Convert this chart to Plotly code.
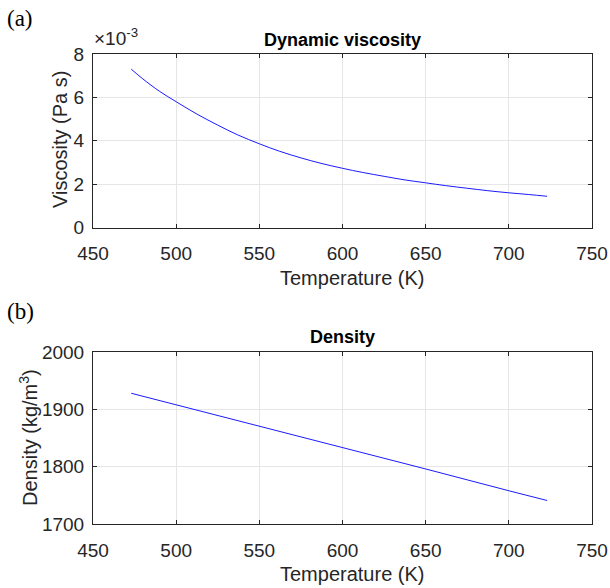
import plotly.graph_objects as go

# Data
temp_visc = [473, 480, 490, 500, 512, 525, 537, 550, 562, 575, 587, 600, 612, 625, 637, 650, 662, 675, 687, 700, 712, 723]
viscosity = [7.30e-3, 6.85e-3, 6.28e-3, 5.80e-3, 5.25e-3, 4.72e-3, 4.27e-3, 3.86e-3, 3.52e-3, 3.21e-3, 2.96e-3, 2.73e-3,
             2.54e-3, 2.36e-3, 2.20e-3, 2.06e-3, 1.93e-3, 1.81e-3, 1.70e-3, 1.60e-3, 1.52e-3, 1.44e-3]
temp_dens = [473, 500, 550, 600, 650, 700, 723]
density = [1928, 1908, 1871, 1833, 1796, 1758, 1741]

x_ticks = [450, 500, 550, 600, 650, 700, 750]
visc_ticks = [0, 0.002, 0.004, 0.006, 0.008]
visc_ticktext = ["0", "2", "4", "6", "8"]
dens_ticks = [1700, 1800, 1900, 2000]

W, H = 610, 588
FONT = "Liberation Sans, Arial, sans-serif"
SERIF = "Liberation Serif, Times New Roman, serif"
AX = "#262626"
GRID = "#e6e6e6"

def px_x(p):  # screen pixel -> paper fraction
    return p / W

def px_y(p):
    return 1 - p / H

fig = go.Figure()
fig.add_trace(go.Scatter(x=temp_visc, y=viscosity, mode="lines", line=dict(color="#0000ff", width=0.9, shape="spline"),
                         xaxis="x", yaxis="y", showlegend=False))
fig.add_trace(go.Scatter(x=temp_dens, y=density, mode="lines", line=dict(color="#0000ff", width=0.9),
                         xaxis="x2", yaxis="y2", showlegend=False))

common_x = dict(range=[450, 750], tickvals=x_ticks, showgrid=True, gridcolor=GRID, gridwidth=1,
                showline=True, linecolor=AX, linewidth=1, mirror="ticks", ticks="inside", ticklen=4,
                tickcolor=AX, zeroline=False, automargin=False, ticklabelstandoff=9,
                tickfont=dict(family=FONT, size=19, color=AX))
common_y = dict(showgrid=True, gridcolor=GRID, gridwidth=1, showline=True, linecolor=AX, linewidth=1,
                mirror="ticks", ticks="inside", ticklen=4, tickcolor=AX, zeroline=False, automargin=False,
                ticklabelstandoff=4, tickfont=dict(family=FONT, size=19, color=AX))

def ann(text, x, y, size, family=FONT, color=AX, angle=0, xa="center", ya="middle"):
    return dict(text=text, x=px_x(x), y=px_y(y), xref="paper", yref="paper", xanchor=xa, yanchor=ya,
                showarrow=False, textangle=angle, font=dict(family=family, size=size, color=color))

fig.update_layout(
    width=W, height=H, paper_bgcolor="white", plot_bgcolor="white",
    margin=dict(l=0, r=0, t=0, b=0),
    xaxis=dict(domain=[px_x(93), px_x(592)], anchor="y", **common_x),
    yaxis=dict(domain=[px_y(227.5), px_y(54)], anchor="x", range=[0, 0.008], tickvals=visc_ticks,
               ticktext=visc_ticktext, **common_y),
    xaxis2=dict(domain=[px_x(93), px_x(592)], anchor="y2", **common_x),
    yaxis2=dict(domain=[px_y(524), px_y(352)], anchor="x2", range=[1700, 2000], tickvals=dens_ticks,
                **common_y),
    annotations=[
        ann("(a)", 5, 18, 23, family=SERIF, color="black", xa="left"),
        ann("(b)", 5, 311, 23, family=SERIF, color="black", xa="left"),
        ann("<b>Dynamic viscosity</b>", 342, 40, 18, color="black"),
        ann("<b>Density</b>", 342, 337, 18, color="black"),
        ann("×10<sup>-3</sup>", 92, 51, 19, xa="left", ya="bottom"),
        ann("Temperature (K)", 352, 278, 20),
        ann("Temperature (K)", 352, 574, 20),
        ann("Viscosity (Pa s)", 60, 140, 20, angle=-90),
        ann("Density (kg/m<sup>3</sup>)", 28, 438, 20, angle=-90),
    ],
)

fig.write_html("out.html", config={"displayModeBar": False},
               post_script="document.body.style.margin='0';document.body.style.overflow='hidden';")
